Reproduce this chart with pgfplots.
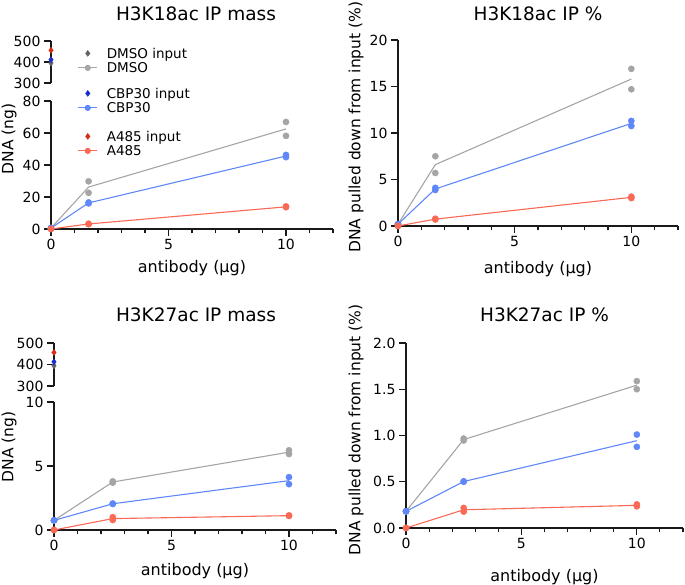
\documentclass[border=0pt]{standalone}
\usepackage{fontspec}
\setmainfont{DejaVu Sans}
\usepackage{pgfplots}
\pgfplotsset{compat=1.18}

\definecolor{dmso}{RGB}{165,165,165}
\definecolor{dmsoin}{RGB}{100,100,100}
\definecolor{cbp}{RGB}{95,135,250}
\definecolor{cbpin}{RGB}{25,45,205}
\definecolor{aaa}{RGB}{250,105,85}
\definecolor{aaain}{RGB}{215,45,20}
\definecolor{axc}{RGB}{25,25,25}

\pgfplotsset{
  base/.style={
    scale only axis, clip=false,
    xmin=0, xmax=12,
    axis line style={line width=1.3pt, axc, -},
    tick align=outside, major tick length=7pt, minor tick length=4.5pt,
    major tick style={line width=1.3pt, axc},
    minor tick style={line width=1.1pt, axc},
    tick label style={font=\fontsize{14}{16}\selectfont},
    /pgf/number format/assume math mode=true,
    label style={font=\fontsize{15.5}{18}\selectfont},
    title style={font=\fontsize{18.5}{22}\selectfont, at={(0.5,1)}, anchor=base},
  },
  panel/.style={base,
    axis x line*=bottom, axis y line*=left,
    xtick={0,5,10}, minor xtick={1,2,3,4,6,7,8,9,11,12},
    xlabel={antibody (µg)},
    xlabel style={font=\fontsize{16}{18}\selectfont, at={(0.5,0)}, anchor=base},
    legend image code/.code={\draw[mark repeat=2,mark phase=2,##1] plot coordinates {(0pt,0pt) (9.5pt,0pt) (19pt,0pt)};},
  },
  brk/.style={base,
    axis x line=none, axis y line*=left,
    ymin=300, ymax=500, ytick={300,400,500},
  },
  pts/.style={only marks, mark=*, mark size=3.1pt, forget plot},
  inp/.style={only marks, mark=diamond*, mark size=3pt, forget plot},
  ln/.style={line width=1.1pt, no marks, forget plot},
}

\begin{document}
\begin{tikzpicture}
\useasboundingbox (0pt,0pt) rectangle (685pt,585pt);

% ---------- H3K18ac IP mass ----------
\begin{axis}[brk, at={(51pt,502pt)}, anchor=south west, width=282pt, height=42pt,
  title={H3K18ac IP mass}, title style={yshift=14pt, xshift=4pt}]
\addplot[inp, dmsoin] coordinates {(0,395)};
\addplot[inp, cbpin] coordinates {(0,411)};
\addplot[inp, aaain] coordinates {(0,456)};
\end{axis}

\begin{axis}[panel, at={(51pt,356pt)}, anchor=south west, width=282pt, height=128pt,
  ymin=0, ymax=80, ytick={0,20,40,60,80},
  xlabel style={yshift=-44pt},
  ylabel={DNA (ng)}, ylabel style={at={(axis description cs:0,0.703)}, anchor=center, yshift=42pt},
  legend style={at={(rel axis cs:0.094,1.43)}, anchor=north west, draw=none, fill=none,
    inner sep=0pt, row sep=0pt, column sep=8.5pt,
    nodes={inner sep=0.5pt, text height=11.7pt, text depth=1.8pt, font=\fontsize{13.5}{15}\selectfont}},
  legend cell align=left]
\addlegendimage{only marks, mark=diamond*, mark size=3pt, dmsoin}
\addlegendentry{DMSO input}
\addlegendimage{line width=1.1pt, mark=*, mark size=2.5pt, dmso}
\addlegendentry{DMSO}
\addlegendimage{empty legend}
\addlegendentry[text height=5pt, text depth=5pt]{}
\addlegendimage{only marks, mark=diamond*, mark size=3pt, cbpin}
\addlegendentry{CBP30 input}
\addlegendimage{line width=1.1pt, mark=*, mark size=2.5pt, cbp}
\addlegendentry{CBP30}
\addlegendimage{empty legend}
\addlegendentry[text height=6.5pt, text depth=6.5pt]{}
\addlegendimage{only marks, mark=diamond*, mark size=3pt, aaain}
\addlegendentry{A485 input}
\addlegendimage{line width=1.1pt, mark=*, mark size=2.5pt, aaa}
\addlegendentry{A485}
% DMSO
\addplot[ln, dmso] coordinates {(0,0.6) (1.6,26.2) (10,62.55)};
\addplot[pts, dmso] coordinates {(0,0.6) (0,0.5) (1.6,29.8) (1.6,22.6) (10,66.9) (10,58.2)};
% CBP30
\addplot[ln, cbp] coordinates {(0,0.6) (1.6,16.3) (10,45.6)};
\addplot[pts, cbp] coordinates {(0,0.6) (0,0.5) (1.6,16.6) (1.6,16.0) (10,46.3) (10,44.9)};
% A485
\addplot[ln, aaa] coordinates {(0,0) (1.6,3.15) (10,13.85)};
\addplot[pts, aaa] coordinates {(0,0) (0,0) (1.6,3.3) (1.6,3.0) (10,14.1) (10,13.6)};
\end{axis}

% ---------- H3K18ac IP % ----------
\begin{axis}[panel, at={(398pt,359pt)}, anchor=south west, width=280pt, height=186pt,
  ymin=0, ymax=20, ytick={0,5,10,15,20},
  title={H3K18ac IP \%}, title style={yshift=13pt},
  xlabel style={yshift=-48pt},
  ylabel={DNA pulled down from input (\%)}, ylabel style={at={(axis description cs:0,0.532)}, anchor=center, yshift=42pt}]
\addplot[ln, dmso] coordinates {(0,0.2) (1.6,6.6) (10,15.8)};
\addplot[pts, dmso] coordinates {(0,0.2) (0,0.2) (1.6,7.5) (1.6,5.7) (10,16.9) (10,14.7)};
\addplot[ln, cbp] coordinates {(0,0.2) (1.6,3.98) (10,11.03)};
\addplot[pts, cbp] coordinates {(0,0.2) (0,0.2) (1.6,4.1) (1.6,3.87) (10,11.3) (10,10.75)};
\addplot[ln, aaa] coordinates {(0,0) (1.6,0.74) (10,3.08)};
\addplot[pts, aaa] coordinates {(0,0) (0,0) (1.6,0.78) (1.6,0.7) (10,3.15) (10,3.0)};
\end{axis}

% ---------- H3K27ac IP mass ----------
\begin{axis}[brk, at={(54pt,199pt)}, anchor=south west, width=282pt, height=43pt,
  title={H3K27ac IP mass}, title style={yshift=15pt, xshift=1pt}]
\addplot[inp, dmsoin] coordinates {(0,394)};
\addplot[inp, cbpin] coordinates {(0,412)};
\addplot[inp, aaain] coordinates {(0,456)};
\end{axis}

\begin{axis}[panel, at={(54pt,55pt)}, anchor=south west, width=282pt, height=128pt,
  ymin=0, ymax=10, ytick={0,5,10},
  xlabel style={yshift=-46pt},
  ylabel={DNA (ng)}, ylabel style={at={(axis description cs:0,0.648)}, anchor=center, yshift=45pt}]
\addplot[ln, dmso] coordinates {(0,0.75) (2.5,3.75) (10,6.08)};
\addplot[pts, dmso] coordinates {(0,0.75) (0,0.75) (2.5,3.8) (2.5,3.7) (10,6.23) (10,5.93)};
\addplot[ln, cbp] coordinates {(0,0.75) (2.5,2.05) (10,3.855)};
\addplot[pts, cbp] coordinates {(0,0.75) (0,0.75) (2.5,2.07) (2.5,2.03) (10,4.13) (10,3.58)};
\addplot[ln, aaa] coordinates {(0,0) (2.5,0.89) (10,1.12)};
\addplot[pts, aaa] coordinates {(0,0) (0,0) (2.5,1.0) (2.5,0.78) (10,1.14) (10,1.1)};
\end{axis}

% ---------- H3K27ac IP % ----------
\begin{axis}[panel, at={(406pt,57pt)}, anchor=south west, width=277pt, height=185pt,
  ymin=0, ymax=2, ytick={0,0.5,1,1.5,2}, yticklabels={0.0,0.5,1.0,1.5,2.0},
  title={H3K27ac IP \%}, title style={yshift=15pt},
  xlabel style={yshift=-54pt},
  ylabel={DNA pulled down from input (\%)}, ylabel style={at={(axis description cs:0,0.53)}, anchor=center, yshift=50pt}]
\addplot[ln, dmso] coordinates {(0,0.18) (2.5,0.956) (10,1.544)};
\addplot[pts, dmso] coordinates {(0,0.18) (0,0.18) (2.5,0.967) (2.5,0.946) (10,1.588) (10,1.50)};
\addplot[ln, cbp] coordinates {(0,0.18) (2.5,0.5025) (10,0.944)};
\addplot[pts, cbp] coordinates {(0,0.18) (0,0.18) (2.5,0.505) (2.5,0.50) (10,1.01) (10,0.877)};
\addplot[ln, aaa] coordinates {(0,0) (2.5,0.197) (10,0.245)};
\addplot[pts, aaa] coordinates {(0,0) (0,0) (2.5,0.217) (2.5,0.177) (10,0.255) (10,0.235)};
\end{axis}
\end{tikzpicture}
\end{document}
